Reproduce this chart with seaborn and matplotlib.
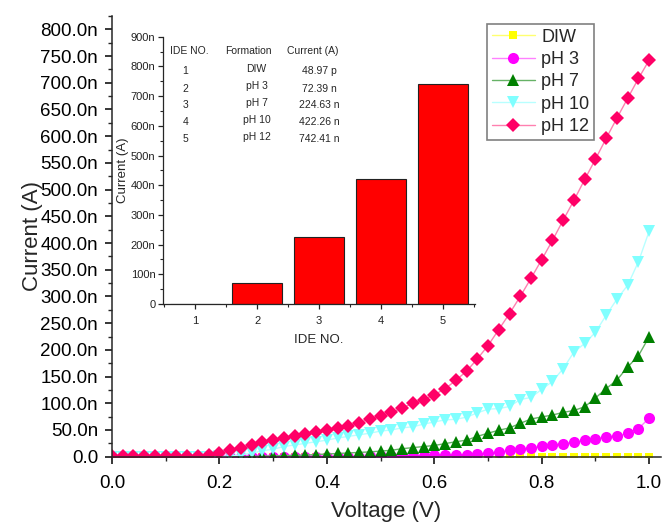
import matplotlib
matplotlib.use("Agg")
import matplotlib.pyplot as plt
from matplotlib.ticker import MultipleLocator, FuncFormatter, FixedLocator
import seaborn as sns

# ---------------- data (currents in nA) ----------------
voltage = [0.00, 0.02, 0.04, 0.06, 0.08, 0.10, 0.12, 0.14, 0.16, 0.18,
           0.20, 0.22, 0.24, 0.26, 0.28, 0.30, 0.32, 0.34, 0.36, 0.38,
           0.40, 0.42, 0.44, 0.46, 0.48, 0.50, 0.52, 0.54, 0.56, 0.58,
           0.60, 0.62, 0.64, 0.66, 0.68, 0.70, 0.72, 0.74, 0.76, 0.78,
           0.80, 0.82, 0.84, 0.86, 0.88, 0.90, 0.92, 0.94, 0.96, 0.98, 1.00]

diw = [0.0, 0.0, 0.0, 0.0, 0.0, 0.0, 0.0, 0.0, 0.0, 0.0,
       0.0, 0.0, 0.0, 0.0, 0.0, 0.0, 0.0, 0.0, 0.0, 0.0,
       0.001, 0.001, 0.002, 0.002, 0.003, 0.003, 0.004, 0.005, 0.006, 0.007,
       0.008, 0.009, 0.010, 0.011, 0.012, 0.014, 0.015, 0.017, 0.018, 0.020,
       0.022, 0.024, 0.026, 0.028, 0.031, 0.033, 0.036, 0.039, 0.042, 0.045, 0.049]

ph3 = [0.0, 0.0, 0.0, 0.0, 0.0, 0.0, 0.0, 0.0, 0.0, 0.0,
       0.0, 0.0, 0.0, 0.0, 0.0, 0.0, 0.0, 0.0, 0.0, 0.0,
       0.0, 0.0, 0.2, 0.3, 0.4, 0.5, 0.7, 1.0, 1.5, 2.0,
       2.5, 3.0, 3.5, 4.0, 5.0, 6.5, 8.5, 12.0, 14.5, 17.0,
       19.5, 22.0, 24.5, 27.0, 30.5, 34.0, 37.0, 39.0, 43.5, 52.5, 72.39]

ph7 = [0.0, 0.0, 0.0, 0.0, 0.0, 0.0, 0.0, 0.0, 0.0, 0.0,
       0.0, 0.0, 0.0, 0.5, 1.0, 1.5, 2.0, 2.5, 3.0, 4.0,
       5.0, 6.0, 7.0, 8.0, 9.0, 10.5, 12.0, 15.0, 17.0, 19.0,
       21.0, 24.5, 28.0, 31.0, 38.0, 44.0, 49.5, 54.0, 62.5, 70.5,
       74.5, 78.0, 83.0, 86.5, 93.5, 110.0, 127.5, 143.5, 168.0, 189.0, 224.63]

ph10 = [0.0, 0.0, 0.0, 0.0, 0.0, 0.0, 0.0, 0.0, 0.0, 0.0,
        0.5, 1.5, 3.5, 6.5, 11.0, 14.0, 19.0, 22.0, 25.0, 28.0,
        31.0, 35.0, 38.0, 41.0, 44.0, 48.0, 50.0, 54.0, 56.0, 61.0,
        65.0, 69.0, 70.0, 74.0, 82.0, 89.0, 90.0, 94.0, 107.0, 111.0,
        126.0, 141.0, 165.0, 196.0, 212.0, 233.0, 265.0, 295.0, 321.0, 365.0, 422.26]

ph12 = [1.5, 1.5, 1.5, 1.5, 2.0, 2.0, 2.0, 2.0, 2.0, 3.0,
        7.0, 12.0, 17.0, 22.0, 27.0, 31.0, 35.0, 39.0, 43.0, 46.0,
        50.0, 54.0, 58.0, 64.0, 70.0, 77.0, 83.0, 91.0, 100.0, 107.0,
        116.0, 127.0, 143.0, 160.0, 183.0, 208.0, 238.0, 268.0, 300.0, 334.0,
        369.0, 405.0, 443.0, 480.0, 519.0, 557.0, 596.0, 634.0, 671.0, 708.0, 742.41]

series_names = ["DIW", "pH 3", "pH 7", "pH 10", "pH 12"]

# inset data
ide_no = ["1", "2", "3", "4", "5"]
formation = ["DIW", "pH 3", "pH 7", "pH 10", "pH 12"]
current_text = ["48.97 p", "72.39 n", "224.63 n", "422.26 n", "742.41 n"]
current_nA = [0.04897, 72.39, 224.63, 422.26, 742.41]

# ---------------- style ----------------
sns.set_theme(style="ticks")
plt.rcParams["font.family"] = ["Liberation Sans", "DejaVu Sans"]
plt.rcParams["axes.linewidth"] = 1.1

fig = plt.figure(figsize=(6.62, 5.26), dpi=100)
ax = fig.add_axes([112 / 662, 1 - 456.7 / 526, 549 / 662, 440.7 / 526])

styles = [
    dict(marker="s", ms=6.0, mc="#FFFF00", lc="#FFFF70"),
    dict(marker="o", ms=8.0, mc="#FF00FF", lc="#FF80FF"),
    dict(marker="^", ms=9.0, mc="#008000", lc="#66B266"),
    dict(marker="v", ms=9.0, mc="#80FFFF", lc="#B8FFFF"),
    dict(marker="D", ms=7.2, mc="#FF0066", lc="#FF80B0"),
]
all_series = [diw, ph3, ph7, ph10, ph12]

for name, vals, st in zip(series_names, all_series, styles):
    sns.lineplot(x=voltage, y=vals, ax=ax, marker=st["marker"], markersize=st["ms"],
                 color=st["mc"], linewidth=1.0, markeredgewidth=0, label=name,
                 legend=False)
    ln = ax.lines[-1]
    ln.set_color(st["lc"])
    ln.set_markerfacecolor(st["mc"])
    ln.set_markeredgecolor(st["mc"])

ax.set_xlim(0, 1.022)
ax.set_ylim(0, 825)
ax.xaxis.set_major_locator(MultipleLocator(0.2))
ax.xaxis.set_minor_locator(MultipleLocator(0.1))
ax.yaxis.set_major_locator(MultipleLocator(50))
ax.yaxis.set_minor_locator(MultipleLocator(25))
ax.yaxis.set_major_formatter(FuncFormatter(lambda v, p: "0.0" if abs(v) < 1e-9 else f"{v:.1f}n"))
ax.xaxis.set_major_formatter(FuncFormatter(lambda v, p: f"{v:.1f}"))
ax.tick_params(axis="both", which="major", labelsize=13.5, length=5, width=1.1,
               direction="out", colors="black")
ax.tick_params(axis="y", which="major", pad=5)
ax.tick_params(axis="x", which="major", pad=8)
ax.tick_params(axis="both", which="minor", length=3, width=1.0, direction="out")
ax.set_xlabel("Voltage (V)", fontsize=16, labelpad=7)
ax.set_ylabel("Current (A)", fontsize=16, labelpad=-2)
sns.despine(ax=ax)

leg = ax.legend(loc="upper left", bbox_to_anchor=(487 / 662, 1 - 24 / 526),
                bbox_transform=fig.transFigure, borderaxespad=0, fontsize=13,
                frameon=True, fancybox=False, framealpha=1, edgecolor="#808080",
                handlelength=2.4, handletextpad=0.35, labelspacing=0.3,
                borderpad=0.25, numpoints=1)
leg.get_frame().set_linewidth(1.2)

# ---------------- inset ----------------
ax_in = fig.add_axes([163 / 662, 1 - 304 / 526, 312 / 662, 267.3 / 526])
sns.barplot(x=ide_no, y=current_nA, ax=ax_in, color="#FF0000", saturation=1,
            edgecolor="#222222", linewidth=0.8, width=0.8)
ax_in.set_xlim(-0.52, 4.52)
ax_in.set_ylim(0, 900)
ax_in.yaxis.set_major_locator(MultipleLocator(100))
ax_in.yaxis.set_minor_locator(MultipleLocator(50))
ax_in.yaxis.set_major_formatter(FuncFormatter(lambda v, p: "0" if abs(v) < 1e-9 else f"{v:.0f}n"))
ax_in.xaxis.set_minor_locator(FixedLocator([-0.5, 0.5, 1.5, 2.5, 3.5, 4.5]))
ax_in.tick_params(axis="both", which="major", labelsize=8, length=3.5, width=0.9,
                  direction="out", colors="#222222", pad=2)
ax_in.tick_params(axis="x", which="major", pad=5)
ax_in.tick_params(axis="both", which="minor", length=2.5, width=0.8, direction="out")
ax_in.set_xlabel("IDE NO.", fontsize=9.5, labelpad=6)
ax_in.set_ylabel("Current (A)", fontsize=9.5, labelpad=1)
for sp in ax_in.spines.values():
    sp.set_linewidth(0.9)
sns.despine(ax=ax_in)

tfs = 7.5
hy = 0.948
ax_in.text(0.022, hy, "IDE NO.", transform=ax_in.transAxes, fontsize=tfs, va="center", ha="left")
ax_in.text(0.274, hy, "Formation", transform=ax_in.transAxes, fontsize=tfs, va="center", ha="center")
ax_in.text(0.479, hy, "Current (A)", transform=ax_in.transAxes, fontsize=tfs, va="center", ha="center")
row_y = [0.870, 0.806, 0.743, 0.680, 0.618]
for ry, n, f, c in zip(row_y, ide_no, formation, current_text):
    ax_in.text(0.071, ry, n, transform=ax_in.transAxes, fontsize=tfs, va="center", ha="center")
    ax_in.text(0.300, ry + 0.008, f, transform=ax_in.transAxes, fontsize=tfs, va="center", ha="center")
    ax_in.text(0.501, ry, c, transform=ax_in.transAxes, fontsize=tfs, va="center", ha="center")

fig.savefig("out.png", dpi=100)
